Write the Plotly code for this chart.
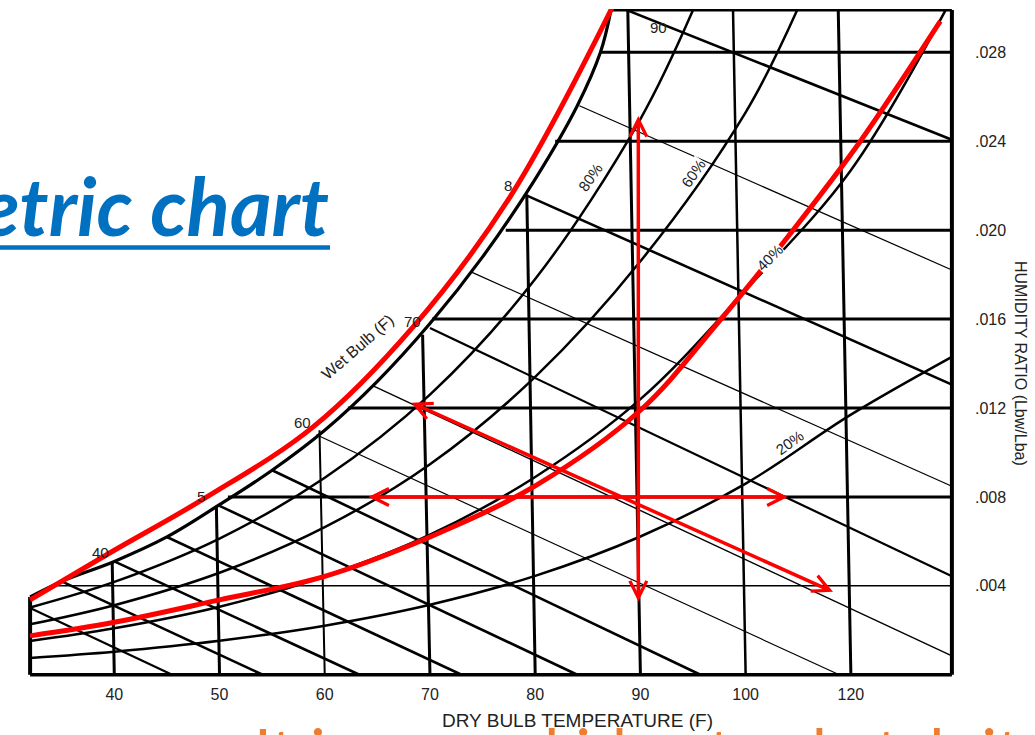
import plotly.graph_objects as go

# ---------------- data ----------------
# saturation (100% RH) curve
sat_T = [32, 35, 40, 45, 50, 55, 60, 65, 70, 75, 80, 84, 86.2, 87.2]
sat_W = [0.0035, 0.0042, 0.0051, 0.0062, 0.00765, 0.0092, 0.0110, 0.0132, 0.0158, 0.0188, 0.0223, 0.0256, 0.0280, 0.0299]

# relative humidity curves
rh20_T = [32, 40, 50, 60, 70, 80, 90, 100, 110, 119.6]
rh20_W = [0.00076, 0.00104, 0.00153, 0.00221, 0.00315, 0.00445, 0.00622, 0.0086, 0.0117, 0.0143]
rh40_T = [32, 40, 50, 60, 70, 80, 90, 100, 110, 119]
rh40_W = [0.00152, 0.00209, 0.00306, 0.00443, 0.0063, 0.0089, 0.0124, 0.0173, 0.0227, 0.0299]
rh60_T = [32, 40, 50, 60, 70, 80, 90, 100, 104.9]
rh60_W = [0.00227, 0.00313, 0.00459, 0.00664, 0.00947, 0.0134, 0.0186, 0.0253, 0.0299]
rh80_T = [32, 40, 50, 60, 70, 80, 90, 95]
rh80_W = [0.00303, 0.00418, 0.00613, 0.00886, 0.0126, 0.0178, 0.0250, 0.0299]

# wet bulb lines (start -> end)
wb_start_T = [32, 35, 40, 45, 50, 55, 59.2, 64.6, 70, 74, 79, 84.2, 88.7]
wb_start_W = [0.0030, 0.0042, 0.0051, 0.0062, 0.0076, 0.0092, 0.0108, 0.0130, 0.0156, 0.0181, 0.0216, 0.0256, 0.0299]
wb_end_T = [45.5, 54.1, 63.3, 73.0, 84.0, 95.7, 108.9, 119.6, 119.6, 119.6, 119.6, 119.6, 119.6]
wb_end_W = [0, 0, 0, 0, 0, 0, 0, 0.00085, 0.00443, 0.00848, 0.01305, 0.01821, 0.02407]
wb_width = [2.2, 2.6, 2.6, 2.6, 2.6, 2.6, 1.2, 1.4, 2.2, 1.2, 2.6, 1.2, 2.6]

# dry bulb lines (bottom -> top at saturation / chart top)
db_T = [40, 50, 60, 70, 80, 90, 100, 110]
db_top_T = [39.8, 49.7, 59.5, 69.3, 79.2, 88.8, 98.8, 108.8]
db_top_W = [0.0051, 0.0076, 0.0110, 0.0153, 0.0216, 0.0299, 0.0299, 0.0299]
db_width = [3, 3, 2, 3, 3, 3, 2.5, 3]

# humidity ratio lines (from saturation to right edge)
w_vals = [0.004, 0.008, 0.012, 0.016, 0.020, 0.024, 0.028]
w_left_T = [34.6, 50.8, 62.2, 70.2, 77.2, 81.9, 86.2]
w_width = [1.5, 3, 3, 3, 3, 3, 3]

# chart frame
T_MIN, T_MAX, W_MAX = 32, 119.6, 0.0299

# tick labels
x_tick_vals = [40, 50, 60, 70, 80, 90, 100, 110]
x_tick_text = ["40", "50", "60", "70", "80", "90", "100", "120"]
y_tick_vals = [0.004, 0.008, 0.012, 0.016, 0.020, 0.024, 0.028]
y_tick_text = [".004", ".008", ".012", ".016", ".020", ".024", ".028"]

# red overlay curves
red1_T = [32, 39.6, 48.8, 58.9, 68.4, 77.6, 87.3]
red1_W = [0.00337, 0.00549, 0.00800, 0.01115, 0.01565, 0.02149, 0.0300]
red2_T = [32, 40, 50, 60, 70, 80, 90, 97.3, 104.5, 110.9, 118.5]
red2_W = [0.00175, 0.00236, 0.00337, 0.00443, 0.0062, 0.0085, 0.0119, 0.0158, 0.0200, 0.0240, 0.0294]

# red double-headed arrows (end A -> end B)
arr_A_T = [89.8, 64.0, 68.1]
arr_A_W = [0.0252, 0.0080, 0.01227]
arr_B_T = [89.8, 104.0, 108.3]
arr_B_W = [0.0033, 0.0080, 0.00373]

# labels on the chart
wbl_text = ["40", "5", "60", "70", "8", "90"]
wbl_T = [38.7, 48.2, 57.9, 68.3, 77.4, 91.7]
wbl_W = [0.00549, 0.0080, 0.01133, 0.01587, 0.02203, 0.02914]
rhl_text = ["80%", "60%", "40%", "20%"]
rhl_T = [85.2, 95.0, 102.3, 104.2]
rhl_W = [0.02239, 0.02257, 0.01875, 0.01043]
rhl_angle = [-55, -55, -45, -36]

# ---------------- layout geometry ----------------
WIDTH, HEIGHT = 1035, 735
M_L, M_R, M_T, M_B = 28, 81, 9, 58
X_RANGE = [31.8, 119.8]
Y_RANGE = [-0.0001, 0.02995]
PW = WIDTH - M_L - M_R
PH = HEIGHT - M_T - M_B


def paper_x(px):
    return (px - M_L) / PW


def paper_y(py):
    return (HEIGHT - M_B - py) / PH


CHART_FONT = "Liberation Sans, Arial, sans-serif"
TXT = "#222222"
BLACK = "#000000"

fig = go.Figure()


def add_line(xs, ys, width, color=BLACK, shape="linear"):
    fig.add_trace(go.Scatter(x=xs, y=ys, mode="lines",
                             line=dict(color=color, width=width, shape=shape),
                             hoverinfo="skip", showlegend=False))


# dry bulb lines
for t, tt, tw, lw in zip(db_T, db_top_T, db_top_W, db_width):
    add_line([t, tt], [0, tw], lw)

# humidity ratio lines
for w, tl, lw in zip(w_vals, w_left_T, w_width):
    add_line([tl, T_MAX], [w, w], lw)

# wet bulb lines
for t0, w0, t1, w1, lw in zip(wb_start_T, wb_start_W, wb_end_T, wb_end_W, wb_width):
    add_line([t0, t1], [w0, w1], lw)

# RH curves
add_line(rh20_T, rh20_W, 2.5, shape="spline")
add_line(rh40_T, rh40_W, 2.5, shape="spline")
add_line(rh60_T, rh60_W, 2.5, shape="spline")
add_line(rh80_T, rh80_W, 2.5, shape="spline")
add_line(sat_T, sat_W, 3.2, shape="spline")

# frame
add_line([T_MIN, T_MAX], [0, 0], 3.5)
add_line([T_MAX, T_MAX], [0, W_MAX], 4)
add_line([sat_T[-1], T_MAX], [W_MAX, W_MAX], 3)
add_line([T_MIN, T_MIN], [0, sat_W[0]], 4)

# red overlay curves
add_line(red1_T, red1_W, 5, color="#FF0000", shape="spline")
add_line(red2_T, red2_W, 5, color="#FF0000", shape="spline")

annotations = []

# red arrows
for a_t, a_w, b_t, b_w in zip(arr_A_T, arr_A_W, arr_B_T, arr_B_W):
    annotations.append(dict(x=b_t, y=b_w, ax=a_t, ay=a_w, xref="x", yref="y",
                            axref="x", ayref="y", text="", showarrow=True,
                            arrowhead=5, startarrowhead=5, arrowside="end+start",
                            arrowwidth=3.5, arrowsize=0.95, startarrowsize=0.95,
                            arrowcolor="#FF0000", standoff=0, startstandoff=0))

# wet bulb labels
for txt, t, w in zip(wbl_text, wbl_T, wbl_W):
    annotations.append(dict(x=t, y=w, xref="x", yref="y", text=txt, showarrow=False,
                            xanchor="center", yanchor="middle",
                            font=dict(family=CHART_FONT, size=15, color=TXT)))

# RH labels
for txt, t, w, ang in zip(rhl_text, rhl_T, rhl_W, rhl_angle):
    annotations.append(dict(x=t, y=w, xref="x", yref="y", text=txt, showarrow=False,
                            textangle=ang, xanchor="center", yanchor="middle",
                            font=dict(family=CHART_FONT, size=15, color=TXT),
                            bgcolor="white", borderpad=0))

# "Wet Bulb (F)" label
annotations.append(dict(x=63.2, y=0.01475, xref="x", yref="y", text="Wet Bulb (F)",
                        showarrow=False, textangle=-41, xanchor="center", yanchor="middle",
                        font=dict(family=CHART_FONT, size=16, color=TXT)))

# axis titles
annotations.append(dict(x=paper_x(577), y=paper_y(720), xref="paper", yref="paper",
                        xanchor="center", yanchor="middle",
                        text="DRY BULB TEMPERATURE (F)", showarrow=False,
                        font=dict(family=CHART_FONT, size=19, color=TXT)))
annotations.append(dict(x=paper_x(1021), y=paper_y(364), xref="paper", yref="paper",
                        xanchor="center", yanchor="middle",
                        text="HUMIDITY RATIO (Lbw/Lba)", showarrow=False, textangle=90,
                        font=dict(family=CHART_FONT, size=16, color=TXT)))

# slide title (partly off the left edge)
annotations.append(dict(x=paper_x(331), y=paper_y(205), xref="paper", yref="paper",
                        xanchor="right", yanchor="middle",
                        text="<b><i>Psychrometric chart</i></b>", showarrow=False,
                        font=dict(family="Lato, Open Sans, sans-serif", size=80, color="#0070C0")))

# orange footer text (only the tops of the tall letters show at the bottom)
annotations.append(dict(x=paper_x(252), y=paper_y(750), xref="paper", yref="paper",
                        xanchor="left", yanchor="middle",
                        text="It is a good idea to sketch it (in",
                        showarrow=False,
                        font=dict(family="Lato, Open Sans, sans-serif", size=64, color="#ED7D31")))

shapes = [dict(type="line", xref="paper", yref="paper",
               x0=paper_x(-5), x1=paper_x(330), y0=paper_y(247.5), y1=paper_y(247.5),
               line=dict(color="#0070C0", width=4.5))]

fig.update_layout(
    width=WIDTH, height=HEIGHT,
    margin=dict(l=M_L, r=M_R, t=M_T, b=M_B, pad=0),
    paper_bgcolor="white", plot_bgcolor="white",
    showlegend=False,
    annotations=annotations,
    shapes=shapes,
    xaxis=dict(range=X_RANGE, showgrid=False, zeroline=False, showline=False,
               tickmode="array", tickvals=x_tick_vals, ticktext=x_tick_text,
               ticks="", ticklabelstandoff=6,
               tickfont=dict(family=CHART_FONT, size=16, color=TXT)),
    yaxis=dict(range=Y_RANGE, side="right", showgrid=False, zeroline=False, showline=False,
               tickmode="array", tickvals=y_tick_vals, ticktext=y_tick_text,
               ticks="", ticklabelstandoff=20,
               tickfont=dict(family=CHART_FONT, size=16, color=TXT)),
)

fig.write_html("out.html", config={"displayModeBar": False},
               post_script="document.body.style.margin='0px';document.body.style.padding='0px';")
